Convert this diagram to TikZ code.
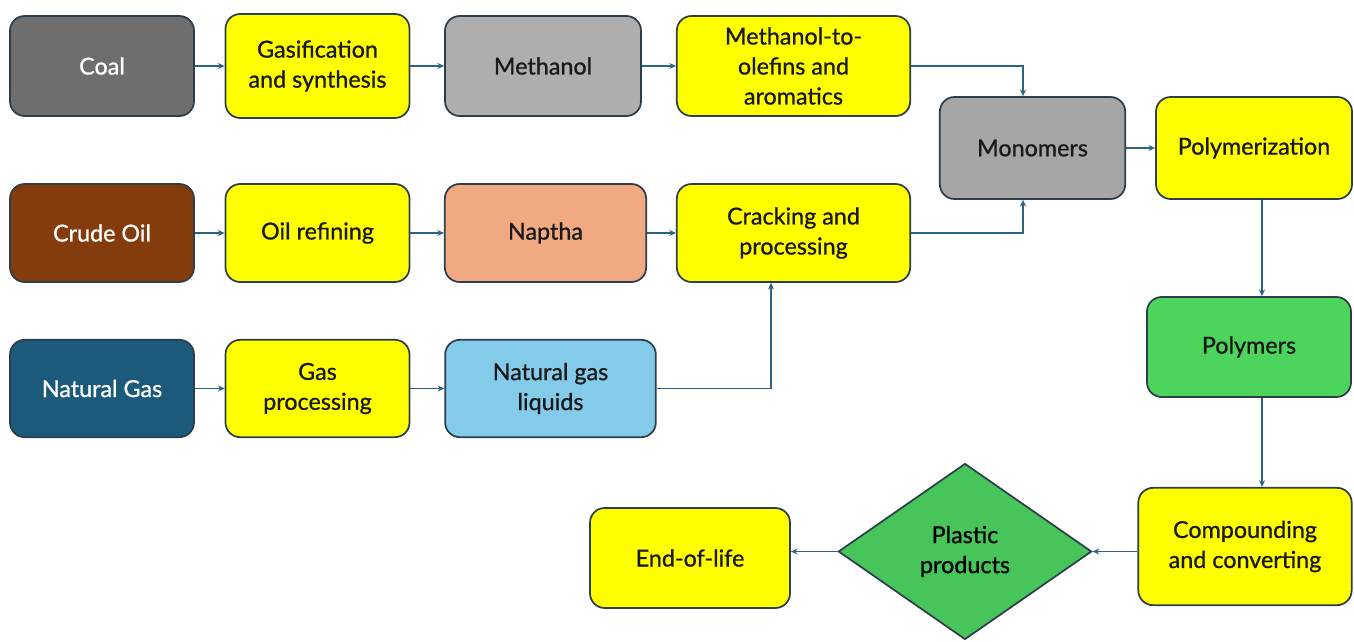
\documentclass[tikz,border=0pt]{standalone}
\usepackage{fontspec}
\setmainfont{Lato}
\newfontfamily\boxfont{Lato}[FakeBold=0.9]
\usetikzlibrary{shapes.geometric,arrows.meta}
\definecolor{edge}{HTML}{2C3E4C}
\definecolor{flowline}{HTML}{2E6283}
\definecolor{stageyellow}{HTML}{FFFF00}
\definecolor{coalgray}{HTML}{6E6E6E}
\definecolor{lightgray}{HTML}{AEAEAE}
\definecolor{monogray}{HTML}{A6A6A6}
\definecolor{crudebrown}{HTML}{843C0C}
\definecolor{napthasalmon}{HTML}{F1A982}
\definecolor{gasblue}{HTML}{1B5A7A}
\definecolor{liquidblue}{HTML}{84CBEA}
\definecolor{polygreen}{HTML}{4CD45C}
\definecolor{productgreen}{HTML}{48C55A}

\begin{document}
\begin{tikzpicture}[x=0.75pt, y=-0.75pt, >={Stealth[length=5pt,width=4.5pt]}, font=\boxfont\fontsize{17.5}{22.5}\selectfont]
        % Styles
        \tikzset{box/.style={rectangle, rounded corners=11pt, draw=edge, line width=1.3pt, align=center, inner sep=2pt, text=black!90, minimum width=138pt, minimum height=75pt}}
        \tikzset{source/.style={box, text=white}}
        \tikzset{stage/.style={box, fill=stageyellow}}
        \tikzset{flow/.style={->, draw=flowline, line width=0.9pt}}
        \useasboundingbox (0,0) rectangle (1354,642);

        % Coal route
        \node[source, fill=coalgray] (coal) at (102,66) {Coal};
        \node[stage, minimum height=78pt] (gasif) at (317.5,66) {Gasification\\and synthesis};
        \node[box, fill=lightgray, minimum width=147pt] (methanol) at (543,66) {Methanol};
        \node[stage, minimum width=175pt] (mto) at (793.5,66) {Methanol-to-\\olefins and\\aromatics};

        % Oil route
        \node[source, fill=crudebrown, minimum height=73.5pt] (crude) at (102,233) {Crude Oil};
        \node[stage, minimum height=73.5pt] (refining) at (317.5,233) {Oil refining};
        \node[box, fill=napthasalmon, minimum width=151pt, minimum height=73.5pt] (naptha) at (545.5,233) {Naptha};
        \node[stage, minimum width=175pt, minimum height=73.5pt] (cracking) at (793.5,233) {Cracking and\\processing};

        % Gas route
        \node[source, fill=gasblue, minimum height=73pt] (natgas) at (102,388.5) {Natural Gas};
        \node[stage, minimum height=73pt] (gasproc) at (317.5,388.5) {Gas\\processing};
        \node[box, fill=liquidblue, minimum width=158pt, minimum height=73pt] (ngl) at (550.5,388.5) {Natural gas\\liquids};

        % Downstream
        \node[box, fill=monogray, minimum width=139pt, minimum height=76.5pt] (mono) at (1032.5,148) {Monomers};
        \node[stage, minimum width=147pt, minimum height=76.5pt] (polymerization) at (1254,148) {Polymerization};
        \node[box, fill=polygreen, minimum width=153pt] (polymers) at (1249,347) {Polymers};
        \node[stage, minimum width=160pt, minimum height=88pt] (compound) at (1245,546.5) {Compounding\\and converting};
        \node[diamond, draw=edge, line width=1.3pt, fill=productgreen, align=center, inner sep=0pt, minimum width=190pt, minimum height=132pt] (plastic) at (965,551.5) {Plastic\\products};
        \node[stage, minimum width=150pt] (eol) at (690,558) {End-of-life};

        % Elbow lines
        \coordinate (join) at (1023,0);
        \coordinate (riser) at (771,0);
        \coordinate (spine) at (1262,0);

        % Connections
        \draw[flow] (coal) -- (gasif);
        \draw[flow] (gasif) -- (methanol);
        \draw[flow] (methanol) -- (mto);
        \draw[flow] (mto.east) -| (mono.north -| join);
        \draw[flow] (crude) -- (refining);
        \draw[flow] (refining) -- (naptha);
        \draw[flow] (naptha) -- (cracking);
        \draw[flow] (cracking.east) -| (mono.south -| join);
        \draw[flow] (natgas) -- (gasproc);
        \draw[flow] (gasproc) -- (ngl);
        \draw[flow] (ngl.east) -| (cracking.south -| riser);
        \draw[flow] (mono) -- (polymerization);
        \draw[flow] (polymerization.south -| spine) -- (polymers.north -| spine);
        \draw[flow] (polymers.south -| spine) -- (compound.north -| spine);
        \draw[flow] (compound.west |- plastic) -- (plastic.east);
        \draw[flow] (plastic.west) -- (plastic.west -| eol.east);
    \end{tikzpicture}
\end{document}
